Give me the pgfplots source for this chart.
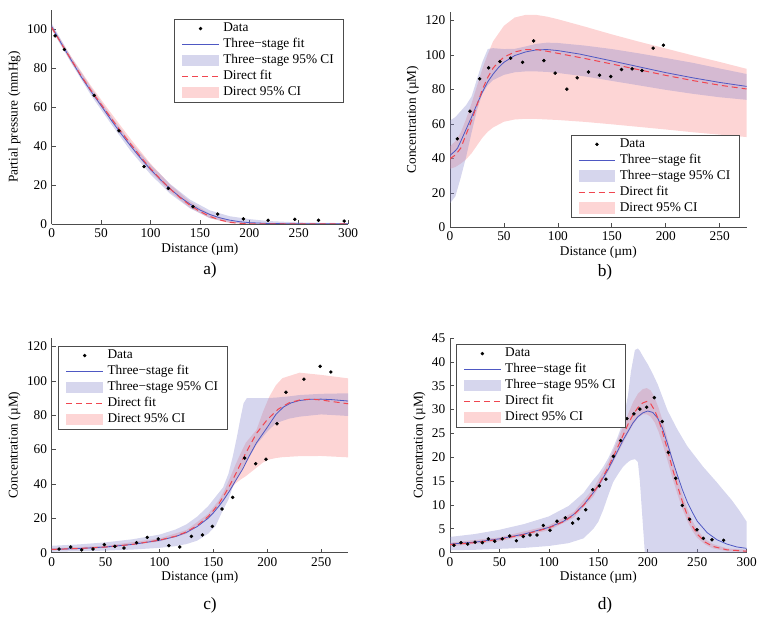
\documentclass[border=0pt]{standalone}
\usepackage{fontspec}
\setmainfont{Liberation Serif}
\usepackage{pgfplots}
\pgfplotsset{compat=1.18}
\usepackage{pgfplotstable}
\usepgfplotslibrary{fillbetween}

\definecolor{fitblue}{RGB}{78,88,195}
\definecolor{fitred}{RGB}{240,70,80}
\definecolor{ciblue}{RGB}{138,138,205}
\definecolor{cired}{RGB}{250,135,135}

% ---------- panel a ----------
\pgfplotstableread{
x y
3.4 96.7
12.8 89.7
43 66.1
68 47.9
93.4 29.5
118 18.3
143 8.9
168 5.1
194 2.6
219 1.9
246 2.4
270 1.9
296 1.5
}\aData
\pgfplotstableread{
x y
0 101.5
10 92.5
20 84
30 75.5
40 68
50 60.8
60 53.5
70 46.5
80 40
90 33.8
100 28
110 22.8
120 18
130 13.8
140 10.2
150 7.2
160 4.9
170 3.2
180 2
190 1.2
200 0.7
220 0.25
250 0.1
300 0.05
}\aFitB
\pgfplotstableread{
x y
0 101
10 92.5
20 84.2
30 76
40 68.5
50 61.5
60 54.5
70 47.5
80 41
90 34.5
100 28.5
110 23
120 18
130 13.5
140 9.6
150 6.4
160 3.9
170 2.1
180 0.9
190 0.3
200 0.05
220 0
300 0
}\aFitR
\pgfplotstableread{
x lo hi
0 100 103
20 82.5 85.5
40 66 70
60 51.5 55.5
80 37.5 42
100 25.5 30.5
120 15.5 20.5
140 8 12.5
160 3 7
180 0.8 4
200 0.1 2.5
220 0 1.5
250 0 0.8
300 0 0.4
}\aCIB
\pgfplotstableread{
x lo hi
0 100 102
20 83 85.8
40 67.2 70.8
60 53.2 57
80 39.5 43.6
100 27 31
120 16.5 20.2
140 8.3 11.5
160 3 5.2
180 0.4 1.7
200 0 0.4
300 0 0.1
}\aCIR

% ---------- panel b ----------
\pgfplotstableread{
x y
6.8 51.4
18.5 67.4
27.5 86.2
35.8 92.6
46.3 96.2
56.2 98.2
67.3 95.8
77.5 108.2
87 96.8
97.5 89.5
108.3 80.2
117.9 86.8
128.4 90.2
138.6 88.3
149 87.5
159 91.6
168.8 92
178 91
188.3 104
197.8 105.7
}\bData
\pgfplotstableread{
x y
0 41.7
5 44.5
7 46
10 50
15 57
20 64
25 71.5
30 78.5
35 84.5
40 89
45 92.8
50 95.8
60 99.7
70 101.8
80 103
90 103.2
100 102.6
120 100.6
150 96.6
175 93.2
200 89.8
225 86.8
250 84.1
275 81.8
}\bFitB
\pgfplotstableread{
x y
0 39.8
5 42
10 46
15 54
20 62
25 71
30 80
35 87
40 92.5
45 96
50 98.8
60 101.8
70 103.2
80 103.2
90 102.2
100 101
125 98
150 94.8
175 91.5
200 88.2
225 85.2
250 82.5
275 80.3
}\bFitR
\pgfplotstableread{
x lo hi
0 14 62
5 18 64
10 29 67.5
15 41 71
20 55 76
25 68 86
30 77.5 96
35 82.5 103.5
40 85.5 104
50 88.5 103.5
60 90 103.6
70 90.5 105
80 90.5 106.5
90 90.2 107.2
100 89.6 107
125 87.6 105.5
150 85 103.5
175 82.4 101
200 79.8 98.3
225 77.5 95.5
250 75.5 92.2
275 74 89
}\bCIB
\pgfplotstableread{
x lo hi
0 34 47
5 35 50
10 37 55
15 39.5 63
20 43 72
25 47.5 82
30 52 92
35 55.5 100.5
40 58 108
50 61.3 117
60 62.6 121.8
70 63 123.3
80 62.9 123.3
90 62.6 122.3
100 62.3 120.8
125 61.2 116.5
150 59.8 112
175 58.3 107.8
200 56.8 103.8
225 55.2 99.8
250 53.8 96
275 52.4 92
}\bCIR

% ---------- panel c ----------
\pgfplotstableread{
x y
6.8 2.1
17.6 3.3
27.8 1.6
38.3 2.1
48.8 4.7
58.6 3.7
67 2.7
78.7 5.8
88.6 8.9
98.8 8
108.6 4.1
118.8 3.3
129.6 9.5
139.8 10.3
149 15.3
158 25.4
167.9 32.2
179 55.1
189.2 51.8
198.8 54.4
209 75.1
217.3 93.4
234 101
249 108.5
259 105.2
}\cData
\pgfplotstableread{
x y
0 1.9
25 2.4
50 3.3
75 4.8
100 7.2
115 9.4
125 11.8
135 15.2
145 20
150 23.2
155 27
160 31.2
165 36
170 41.3
177 48.5
183 56
190 64
200 73
208 80.5
215 84.8
222 87.2
230 88.6
240 89.3
250 89.4
260 89.1
275 88.3
}\cFitB
\pgfplotstableread{
x y
0 1.9
25 2.4
50 3.3
75 4.8
100 7.3
115 9.6
125 12.1
135 15.8
145 21
150 24.5
155 28.5
160 33.5
165 39
170 45
175 51.5
180 58
190 69.5
200 77.5
210 83.5
220 87.2
230 88.9
240 89.4
250 88.9
260 88
275 86.7
}\cFitR
\pgfplotstableread{
x lo hi
0 0.5 4
25 0.8 4.8
50 1.2 6
75 1.8 7.8
100 2.8 10.5
115 3.8 13.5
125 5 16.5
135 7 21
145 11 27
152 15.5 32.5
159 25 38
164 31 46
168 38.4 56
172 43.5 68
175 47 78
178 50.5 87
181 53 90
190 63 90
200 70.5 90
208 75.4 90.3
220 78 91
230 79.2 91.8
250 80.5 92.5
275 79.6 92.8
}\cCIB
\pgfplotstableread{
x lo hi
0 1.3 2.6
50 2.7 4
100 6.5 8.3
125 11 13.2
145 19.5 22.5
155 26.5 30.5
160 31 36
165 35.5 43
170 40 50.5
175 42.5 57.5
180 44.5 64
190 49.5 71.5
196 52.5 82
202 54.3 91
208 55.1 97.5
214 55.6 101.6
230 56.2 104.8
250 56.3 103.5
275 55.5 101.5
}\cCIR

% ---------- panel d ----------
\pgfplotstableread{
x y
4 1.54
11.1 2.1
17.9 1.8
25.3 2.2
32.7 2.1
38.8 2.9
45.2 2.4
52.9 2.9
60.3 3.5
67.1 2.5
74.1 3.4
80.9 3.7
88 3.7
94.4 5.7
101.1 4.7
108.2 6.6
116.6 7.3
124 6.2
129.8 7.1
137.2 9
144.3 13.2
151 14
157.7 15.4
165.2 20.2
172.6 23.5
179 28.1
186 29.1
192 30.1
198.9 30.5
206.6 32.5
214.7 27.5
220.8 21
228.2 15.6
234.9 9.9
242.3 7
249.7 4.8
256.2 3
264.9 2.7
276.7 2.6
}\dData
\pgfplotstableread{
x y
0 1.8
25 2.2
50 2.9
75 3.9
100 5.3
115 6.6
125 8
135 10
145 12.6
150 14
160 17.5
170 21.5
175 23.6
180 25.4
185 27.2
190 28.5
195 29.3
200 29.7
205 29.4
210 28.2
215 26
220 22.8
225 19.4
230 16.2
235 13.2
240 10.6
245 8.5
250 6.6
260 4.2
270 2.7
280 1.8
290 1.2
300 0.9
}\dFitB
\pgfplotstableread{
x y
0 1.7
25 2.1
50 2.8
75 3.8
100 5.2
115 6.5
125 7.9
135 9.9
145 12.6
150 14.1
160 17.9
170 22.3
175 24.6
180 26.9
185 28.9
190 30.4
195 31.4
199 31.7
203 31.2
207 29.8
211 27.8
215 25.2
220 21.5
225 17.6
230 14
235 10.7
240 7.8
245 5.6
250 3.9
258 2.2
266 1.3
280 0.6
300 0.3
}\dFitR
\pgfplotstableread{
x lo hi
0 0.5 3.3
25 0.6 3.9
50 0.8 4.8
75 1 6
100 1.4 7.6
120 2 9.8
135 3 12.5
145 5 15.3
150 6.5 16.5
155 9 18
160 12 19.8
165 14.8 22
170 16.5 24.5
175 18 27.5
180 19 33
183 19.4 38
187 19.6 42.5
190 19 42.8
192 15 42.3
195 6 41.2
197 0 40.5
200 0 39.5
205 0 37.5
210 0 35.3
220 0 29.8
230 0 25.8
240 0 22.3
256 0 18
270 0 14.7
276 0 13.2
285 0 11
292 0 9
300 0 6.5
}\dCIB
\pgfplotstableread{
x lo hi
0 1.3 2.1
50 2.4 3.2
100 4.7 5.7
125 7.3 8.5
145 11.8 13.4
160 17 19
170 21 23.8
180 25 29
185 26.8 31.5
190 28.3 33.3
195 29 34.3
199 29 34.5
203 28.5 34
207 27.3 32.5
211 25.3 30.3
215 22.8 27.7
220 19.3 23.8
225 15.6 19.7
230 12.3 15.8
235 9.2 12.3
240 6.6 9.2
245 4.6 6.7
250 3.1 4.8
258 1.7 2.8
266 0.9 1.8
280 0.3 0.9
300 0.1 0.6
}\dCIR

\pgfplotsset{
  panel/.style={
    scale only axis, width=222.3pt, height=161pt,
    axis lines=left, axis line style={-, black!70, line width=0.5pt},
    tick align=inside, major tick length=3pt, tick style={black!70, line width=0.5pt},
    tick label style={font=\rmfamily\fontsize{10}{12}\selectfont},
    xticklabel={\pgfmathprintnumber[assume math mode=true]{\tick}},
    yticklabel={\pgfmathprintnumber[assume math mode=true]{\tick}},
    label style={font=\fontsize{10}{12}\selectfont},
    xlabel={Distance (µm)},
    xlabel style={yshift=3pt},
    ylabel style={yshift=-2pt},
    legend cell align=left,
    legend style={draw=black!70, line width=0.4pt, fill=white,
      font=\rmfamily\fontsize{10}{12}\selectfont, inner xsep=5.5pt, inner ysep=1pt,
      row sep=0pt,
      nodes={inner sep=1.5pt, text height=6.9pt, text depth=2.1pt},
      /tikz/every odd column/.append style={column sep=1.5pt}},
    legend image code/.code={\draw[mark repeat=2,mark phase=2,##1] plot coordinates {(0pt,0pt) (13.75pt,0pt) (27.5pt,0pt)};},
  },
  bandleg/.style={legend image code/.code={\fill[##1] (0pt,-4.4pt) rectangle (27.5pt,4.4pt);}},
  dataplot/.style={only marks, mark=*, mark size=1.1pt, black},
  fitb/.style={color=fitblue, line width=0.6pt},
  fitr/.style={color=fitred, line width=0.75pt, dash pattern=on 4.5pt off 3pt},
  bandb/.style={fill=ciblue, fill opacity=0.35, draw=none},
  bandr/.style={fill=cired, fill opacity=0.35, draw=none},
}

\newcommand\legendfive{%
  \addlegendimage{dataplot}\addlegendentry{Data}
  \addlegendimage{fitb}\addlegendentry{Three−stage fit}
  \addlegendimage{bandleg, bandb}\addlegendentry{Three−stage 95\% CI}
  \addlegendimage{fitr}\addlegendentry{Direct fit}
  \addlegendimage{bandleg, bandr}\addlegendentry{Direct 95\% CI}}

\newcommand\bands[3]{%
  \addplot[draw=none, forget plot, name path=#1ru] table[x=x, y=hi] {#3};
  \addplot[draw=none, forget plot, name path=#1rl] table[x=x, y=lo] {#3};
  \addplot[bandr, forget plot] fill between[of=#1ru and #1rl];
  \addplot[draw=none, forget plot, name path=#1bu] table[x=x, y=hi] {#2};
  \addplot[draw=none, forget plot, name path=#1bl] table[x=x, y=lo] {#2};
  \addplot[bandb, forget plot] fill between[of=#1bu and #1bl];}

\begin{document}
\begin{tikzpicture}
\path (0,0) rectangle (573pt,465pt);

% a)
\begin{axis}[panel, at={(38.8pt,297pt)}, anchor=south west, height=160.5pt,
  xmin=0, xmax=300, ymin=0, ymax=110, xtick={0,50,...,300}, ytick={0,20,...,100},
  ylabel={Partial pressure (mmHg)},
  legend style={at={(0.984,0.958)}, anchor=north east}]
\legendfive
\bands{a}{\aCIB}{\aCIR}
\addplot[fitb, forget plot] table {\aFitB};
\addplot[fitr, forget plot] table {\aFitR};
\addplot[dataplot, forget plot] table {\aData};
\end{axis}

% b)
\begin{axis}[panel, at={(337.5pt,294.5pt)}, anchor=south west, height=161.5pt, width=222.5pt,
  xmin=0, xmax=275, ymin=0, ymax=125, xtick={0,50,...,250}, ytick={0,20,...,120},
  ylabel={Concentration (µM)},
  legend style={at={(0.977,0.43)}, anchor=north east}]
\legendfive
\bands{b}{\bCIB}{\bCIR}
\addplot[fitb, forget plot] table {\bFitB};
\addplot[fitr, forget plot] table {\bFitR};
\addplot[dataplot, forget plot] table {\bData};
\end{axis}

% c)
\begin{axis}[panel, at={(38.8pt,50.5pt)}, anchor=south west,
  xmin=0, xmax=275, ymin=0, ymax=125, xtick={0,50,...,250}, ytick={0,20,...,120},
  ylabel={Concentration (µM)},
  legend style={at={(0.022,0.963)}, anchor=north west}]
\legendfive
\bands{c}{\cCIB}{\cCIR}
\addplot[fitb, forget plot] table {\cFitB};
\addplot[fitr, forget plot] table {\cFitR};
\addplot[dataplot, forget plot] table {\cData};
\end{axis}

% d)
\begin{axis}[panel, at={(337.5pt,50.5pt)}, anchor=south west, width=222.5pt,
  xmin=0, xmax=300, ymin=0, ymax=45, xtick={0,50,...,300}, ytick={0,5,...,45},
  ylabel={Concentration (µM)},
  legend style={at={(0.02,0.972)}, anchor=north west}]
\legendfive
\bands{d}{\dCIB}{\dCIR}
\addplot[fitb, forget plot] table {\dFitB};
\addplot[fitr, forget plot] table {\dFitR};
\addplot[dataplot, forget plot] table {\dData};
\end{axis}

\node[font=\fontsize{13}{15}\selectfont] at (157.5pt,262.5pt) {a)};
\node[font=\fontsize{13}{15}\selectfont] at (453.75pt,261pt) {b)};
\node[font=\fontsize{13}{15}\selectfont] at (157.5pt,11.25pt) {c)};
\node[font=\fontsize{13}{15}\selectfont] at (453.75pt,11.25pt) {d)};
\end{tikzpicture}
\end{document}
